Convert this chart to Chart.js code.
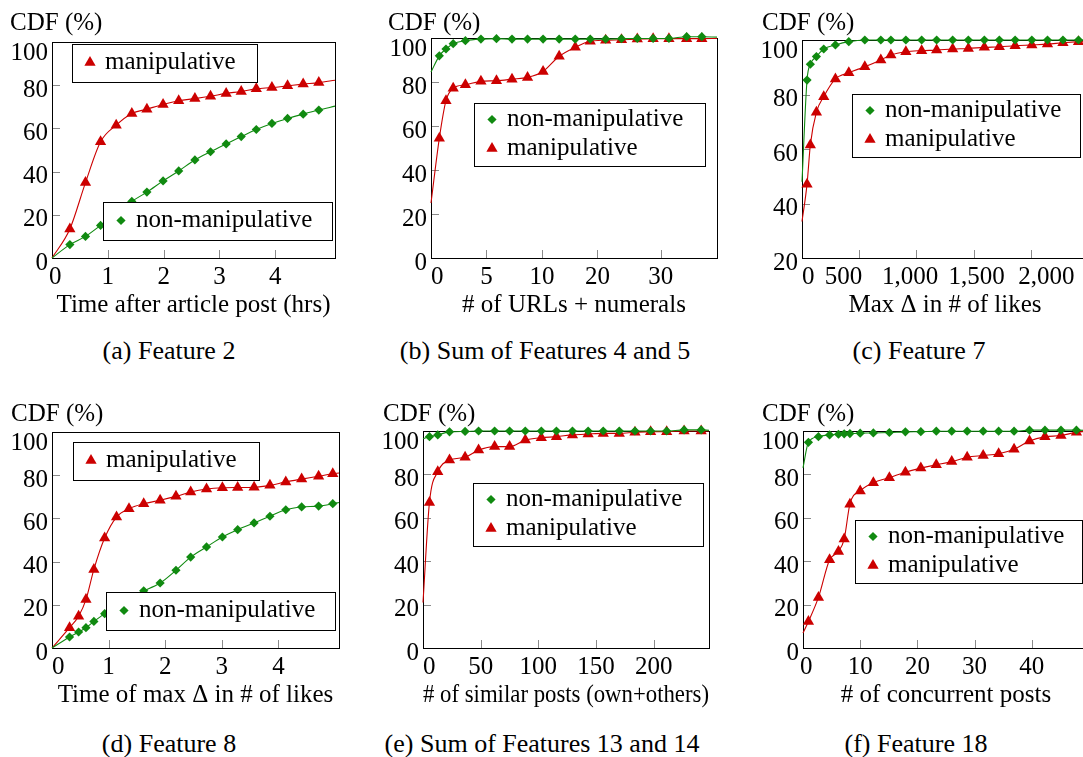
<!DOCTYPE html>
<html>
<head>
<meta charset="utf-8">
<script src="https://cdn.jsdelivr.net/npm/chart.js@4.4.1/dist/chart.umd.min.js"></script>
<style>
  html, body { margin: 0; padding: 0; background: #fff; width: 1083px; height: 757px; overflow: hidden; }
  body { position: relative; }
  canvas { position: absolute; }
  .cap { position: absolute; font-family: "Liberation Serif", "Times New Roman", serif; font-size: 26px; line-height: 30px;
         white-space: nowrap; transform: translateX(-50%); color: #000; }
</style>
</head>
<body>
<div class="cap" style="left:169px; top:336px">(a) Feature 2</div>
<div class="cap" style="left:545px; top:336px">(b) Sum of Features 4 and 5</div>
<div class="cap" style="left:919px; top:336px">(c) Feature 7</div>
<div class="cap" style="left:169px; top:729px">(d) Feature 8</div>
<div class="cap" style="left:542px; top:729px">(e) Sum of Features 13 and 14</div>
<div class="cap" style="left:916px; top:729px">(f) Feature 18</div>

<script>
// ---- data (CDF in %) ----
const yTicks = [0, 20, 40, 60, 80, 100];
const cYTicks = [20, 40, 60, 80, 100];

// (a) Feature 2
const aX = [0, 0.32, 0.6, 0.87, 1.15, 1.43, 1.7, 1.99, 2.27, 2.56, 2.84, 3.12, 3.39, 3.66, 3.94, 4.22, 4.5, 4.78, 5.07];
const aManip = [0, 13.4, 34.9, 53.8, 61.5, 66.9, 68.9, 71.1, 72.8, 73.8, 74.9, 76.2, 77.1, 78.3, 78.9, 79.7, 80.5, 81.2, 82.3];
const aNon = [0, 6.2, 10, 15.1, 20.5, 26.2, 30.5, 35.7, 40.3, 45.4, 49.2, 52.8, 56.2, 59.5, 62.3, 64.6, 66.6, 68.5, 70.3];
const timeTicks = [0, 1, 2, 3, 4];

// (b) Sum of Features 4 and 5
const bX = [0, 0.75, 1.35, 2.0, 3.1, 4.5, 5.9, 7.3, 8.7, 10.2, 13.1, 16.0, 18.7, 21.3, 23.8, 26.3, 28.8, 31.3, 34.1, 36.5, 38.9];
const bManip = [25, 54.4, 71.5, 77.2, 78.7, 80.3, 80.6, 81.3, 82.1, 84.8, 91.7, 95.8, 98.5, 99.0, 99.2, 99.5, 99.7, 99.7, 99.7, 99.7, 99.8];
const bNon = [84.5, 91.9, 95.0, 97.4, 98.8, 99.5, 99.7, 99.5, 99.5, 99.5, 99.5, 99.5, 99.5, 99.5, 99.7, 99.8, 99.8, 99.8, 100.6, 100.6, 100.4];
const bTicks = [0, 5, 10, 20, 30];

// (c) Feature 7
const cX = [0, 44, 73, 126, 190, 292, 409, 549, 689, 777, 908, 1046, 1177, 1317, 1454, 1594, 1725, 1863, 2009, 2146, 2281, 2417, 2500];
const cManip = [33.4, 47.1, 61.5, 73.5, 79.2, 85.7, 88.0, 90.2, 92.7, 94.5, 95.7, 96.1, 96.3, 96.7, 96.9, 97.3, 97.5, 97.9, 98.2, 98.5, 99.0, 99.4, 99.6];
const cNon = [48, 85.3, 91.1, 93.9, 96.7, 98.2, 99.4, 100, 100, 100, 100, 100, 100, 100, 100, 100, 100, 100, 100, 100, 100, 100, 100];
const cTicks = [0, 500, 1000, 1500, 2000];

// (d) Feature 8
const dX = [0, 0.31, 0.47, 0.6, 0.74, 0.93, 1.14, 1.36, 1.62, 1.91, 2.19, 2.45, 2.73, 3.01, 3.28, 3.57, 3.85, 4.13, 4.41, 4.71, 4.96, 5.07];
const dManip = [0, 9.4, 14.7, 22.4, 36.4, 50.9, 60.6, 64.5, 66.8, 68.4, 70.2, 72.2, 73.6, 74.2, 74.3, 74.4, 75.3, 76.9, 78.2, 79.5, 80.7, 81];
const dNon = [0, 5.1, 7.4, 9.4, 12.3, 15.9, 20, 23.5, 26.5, 30.1, 36.0, 42.1, 46.8, 51.4, 54.8, 57.9, 61, 64, 65.3, 65.7, 66.8, 67.4];

// (e) Sum of Features 13 and 14
const eX = [0, 5.6, 12.8, 23, 36.5, 48.2, 62.1, 75.1, 88.7, 102.6, 115.7, 129.6, 143.2, 156.3, 170.2, 183.8, 197.4, 211.3, 226.4, 241.2, 248];
const eManip = [21, 67.1, 81.2, 86.6, 87.9, 91.2, 92.8, 92.8, 95.8, 96.9, 97.4, 98.2, 98.6, 98.9, 98.9, 99.4, 99.7, 99.7, 100, 100, 100];
const eNon = [96.5, 97.4, 98.2, 99.6, 99.8, 100, 100, 100, 100, 100, 100, 100, 100, 100, 100, 100, 100, 100, 100.5, 100.5, 100.3];
const eTicks = [0, 50, 100, 150, 200];

// (f) Feature 18
const fX = [0, 0.95, 2.7, 4.65, 6.2, 7.2, 8.2, 10.0, 12.3, 15.1, 17.9, 20.6, 23.3, 26.0, 28.7, 31.5, 34.2, 36.9, 39.6, 42.3, 45.1, 47.8, 50];
const fManip = [6.9, 12.2, 23.3, 40.7, 44.5, 50.2, 66.3, 72.4, 76.2, 78.5, 81.0, 82.9, 84.4, 85.9, 87.9, 88.7, 89.5, 91.6, 95.4, 97.3, 97.9, 99.4, 100];
const fNon = [83, 94.8, 97.4, 98.2, 98.5, 98.7, 98.8, 99.0, 99.1, 99.3, 99.6, 99.7, 99.9, 99.9, 99.9, 99.9, 99.9, 99.9, 100.4, 100.4, 100.4, 100.4, 100.2];
const fTicks = [0, 10, 20, 30, 40];

// panel (b)'s printed ticks are not evenly spaced in value: piecewise map value -> axis position
const bKnotPos = [0, 1, 2, 3, 4.14];
function bPos(v) {
  for (let i = 1; i < bTicks.length; i++) {
    if (v <= bTicks[i] || i === bTicks.length - 1) {
      const a = bTicks[i - 1], b = bTicks[i];
      return bKnotPos[i - 1] + (v - a) / (b - a) * (bKnotPos[i] - bKnotPos[i - 1]);
    }
  }
}

// tick text, padded with spaces where the original labels sit off-centre from their ticks
const pad = (s, lead, trail) => ' '.repeat(lead) + s + ' '.repeat(trail);
const fmt = v => v.toLocaleString('en-US');

const FONT = { family: 'Liberation Serif', size: 25, lineHeight: 1.2 };
const STYLE = {
  manip: { label: 'manipulative', color: '#cc0000', shape: 'triangle', r: 6.5 },
  non: { label: 'non-manipulative', color: '#108a10', shape: 'rectRot', r: 4.6 }
};

function drawMarker(ctx, key, x, y) {
  const s = STYLE[key], r = s.r;
  ctx.fillStyle = s.color;
  ctx.beginPath();
  if (s.shape === 'triangle') {
    ctx.moveTo(x, y - r); ctx.lineTo(x + r * 0.866, y + r / 2); ctx.lineTo(x - r * 0.866, y + r / 2);
  } else {
    ctx.moveTo(x, y - r); ctx.lineTo(x + r, y); ctx.lineTo(x, y + r); ctx.lineTo(x - r, y);
  }
  ctx.closePath();
  ctx.fill();
}

function makePanel(p) {
  const cl = p.plot.l - 56, ct = p.top, cr = p.plot.r + 20, cb = p.plot.b + 65;
  const cv = document.createElement('canvas');
  cv.width = cr - cl; cv.height = cb - ct;
  Object.assign(cv.style, { left: cl + 'px', top: ct + 'px', width: (cr - cl) + 'px', height: (cb - ct) + 'px' });
  document.body.appendChild(cv);

  const tx = p.tx || (v => v);
  const series = (key, xs, ys) => ({
    label: STYLE[key].label,
    data: xs.map((v, i) => ({ x: tx(v), y: ys[i] })),
    borderColor: STYLE[key].color,
    backgroundColor: STYLE[key].color,
    borderWidth: 1.1,
    pointStyle: STYLE[key].shape,
    pointRadius: c => (c.dataIndex === 0 || c.dataIndex === xs.length - 1) ? 0 : STYLE[key].r,
    pointBorderWidth: 0,
    cubicInterpolationMode: 'monotone',
    clip: false
  });

  const decor = {
    id: 'decor',
    beforeDatasetsDraw(chart) {
      const { ctx, chartArea: a, scales: { x, y } } = chart;
      ctx.save();
      ctx.strokeStyle = '#8a8a8a';
      ctx.lineWidth = 1;
      ctx.beginPath();
      x.ticks.forEach(t => {
        const px = Math.round(x.getPixelForValue(t.value)) + 0.5;
        ctx.moveTo(px, a.bottom); ctx.lineTo(px, a.bottom - 8);
      });
      y.ticks.forEach(t => {
        const py = Math.round(y.getPixelForValue(t.value)) + 0.5;
        ctx.moveTo(a.left, py); ctx.lineTo(a.left + 8, py);
      });
      ctx.stroke();
      ctx.strokeStyle = '#000';
      ctx.strokeRect(a.left + 0.5, a.top + 0.5, a.right - a.left, a.bottom - a.top);
      ctx.restore();
    },
    afterDatasetsDraw(chart) {
      const ctx = chart.ctx;
      ctx.save();
      ctx.font = '25px "Liberation Serif"';
      ctx.textBaseline = 'alphabetic';
      ctx.fillStyle = '#000';
      ctx.fillText('CDF (%)', p.cdf[0] - cl, p.cdf[1] - ct);
      p.legends.forEach(lg => {
        const n = lg.items.length;
        const h = n === 1 ? 38 : 63;
        const bx = lg.box[0] - cl, by = lg.box[1] - ct;
        ctx.fillStyle = '#fff';
        ctx.fillRect(bx, by, lg.box[2], h);
        ctx.strokeStyle = '#000';
        ctx.lineWidth = 1;
        ctx.strokeRect(bx + 0.5, by + 0.5, lg.box[2], h);
        lg.items.forEach((key, i) => {
          const ry = by + (n === 1 ? 18.5 : 16.5) + i * 29;
          drawMarker(ctx, key, bx + 18, ry);
          ctx.fillStyle = '#000';
          ctx.fillText(STYLE[key].label, bx + 33, ry + 6);
        });
      });
      ctx.restore();
    }
  };

  new Chart(cv, {
    type: 'line',
    data: { datasets: [series('non', p.xs, p.non), series('manip', p.xs, p.manip)] },
    options: {
      responsive: false,
      animation: false,
      events: [],
      layout: { padding: { top: p.plot.t - ct, left: 0, right: cr - p.plot.r, bottom: 0 } },
      plugins: { legend: { display: false }, tooltip: { enabled: false } },
      scales: {
        x: {
          type: 'linear',
          min: tx(p.xmin), max: tx(p.xmax),
          grid: { display: false, drawTicks: false },
          border: { display: false },
          afterBuildTicks: s => { s.ticks = p.xTicks.map(v => ({ value: tx(v) })); },
          afterFit: s => { s.height = cb - p.plot.b; },
          ticks: {
            color: '#000', font: FONT, padding: 4, autoSkip: false, maxRotation: 0, minRotation: 0,
            callback: (v, i) => pad(fmt(p.xTicks[i]), p.lead[i] || 0, p.trail[i] || 0)
          },
          title: { display: true, text: p.xTitle, color: '#000', font: FONT, padding: { top: 0, bottom: 3 } }
        },
        y: {
          type: 'linear',
          min: p.yTicks[0], max: 100,
          grid: { display: false, drawTicks: false },
          border: { display: false },
          afterBuildTicks: s => { s.ticks = p.yTicks.map(v => ({ value: v })); },
          afterFit: s => { s.width = p.plot.l - cl; },
          ticks: {
            color: '#000', padding: 4, labelOffset: 5,
            // the top label sits a little below its tick in the original: push it down one short line
            font: c => ({ ...FONT, lineHeight: c.tick && c.tick.value === 100 ? 0.5 : 1.2 }),
            callback: v => v === 100 ? ['', '100'] : String(v)
          }
        }
      }
    },
    plugins: [decor]
  });
}

makePanel({
  top: 0, plot: { l: 52, t: 42, r: 335, b: 258 }, cdf: [10, 29.5],
  xs: aX, manip: aManip, non: aNon, xmin: 0, xmax: 5.07, xTicks: timeTicks, yTicks: yTicks,
  lead: [1], trail: [],
  xTitle: 'Time after article post (hrs)',
  legends: [{ box: [72, 44, 185], items: ['manip'] }, { box: [103, 202, 229], items: ['non'] }]
});
makePanel({
  top: 0, plot: { l: 431, t: 38, r: 717, b: 258 }, cdf: [388, 29.5],
  xs: bX, manip: bManip, non: bNon, xmin: 0, xmax: 38.9, xTicks: bTicks, yTicks: yTicks, tx: bPos,
  lead: [2], trail: [],
  xTitle: '# of URLs + numerals',
  legends: [{ box: [474, 103, 231], items: ['non', 'manip'] }]
});
makePanel({
  top: 0, plot: { l: 802, t: 40, r: 1088, b: 258 }, cdf: [762, 29.5],
  xs: cX, manip: cManip, non: cNon, xmin: 0, xmax: 2500, xTicks: cTicks, yTicks: cYTicks,
  lead: [2, 0, 0, 1, 5], trail: [0, 5, 2, 0, 0],
  xTitle: 'Max \u0394 in # of likes',
  legends: [{ box: [852, 94, 228], items: ['non', 'manip'] }]
});
makePanel({
  top: 390, plot: { l: 52, t: 432, r: 339, b: 648 }, cdf: [11, 420.5],
  xs: dX, manip: dManip, non: dNon, xmin: 0, xmax: 5.07, xTicks: timeTicks, yTicks: yTicks,
  lead: [2], trail: [],
  xTitle: 'Time of max \u0394 in # of likes',
  legends: [{ box: [73, 442, 186], items: ['manip'] }, { box: [106, 592, 229], items: ['non'] }]
});
makePanel({
  top: 390, plot: { l: 423, t: 431, r: 709, b: 648 }, cdf: [383, 420.5],
  xs: eX, manip: eManip, non: eNon, xmin: 0, xmax: 248, xTicks: eTicks, yTicks: yTicks,
  lead: [2], trail: [],
  xTitle: '# of similar posts (own+others)',
  legends: [{ box: [473, 483, 230], items: ['non', 'manip'] }]
});
makePanel({
  top: 390, plot: { l: 803, t: 431, r: 1089, b: 648 }, cdf: [762, 420.5],
  xs: fX, manip: fManip, non: fNon, xmin: 0, xmax: 50, xTicks: fTicks, yTicks: yTicks,
  lead: [1], trail: [],
  xTitle: '# of concurrent posts',
  legends: [{ box: [855, 520, 227], items: ['non', 'manip'] }]
});
</script>
</body>
</html>
